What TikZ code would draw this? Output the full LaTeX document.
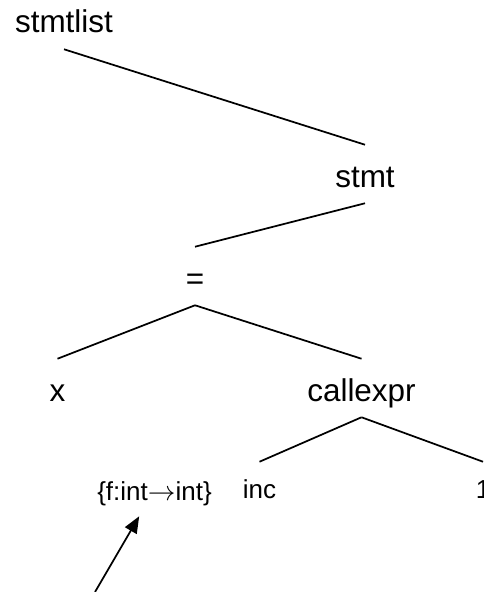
\documentclass[tikz,border=0pt]{standalone}
\usepackage{fontspec}
\setmainfont{Liberation Sans}
\usetikzlibrary{arrows.meta}
\tikzset{>={Triangle[length=12.5pt,width=10pt]},
  lbl/.style={anchor=base,inner sep=0pt,text height=31.5pt,text depth=12pt,font=\fontsize{23.6}{28}\selectfont},
  sublbl/.style={anchor=base,inner sep=0pt,text height=27pt,text depth=12pt,font=\fontsize{19.5}{24}\selectfont},
  branch/.style={line width=1.3pt},pointer/.style={line width=1.3pt,->}}
\begin{document}
\begin{tikzpicture}[x=.75pt,y=-.75pt]
\useasboundingbox (0,0) rectangle (483,592);
\node[lbl] (stmtlist) at (64,33){stmtlist};\node[lbl] (stmt) at (365,187){stmt};
\node[lbl] (eq) at (195,289){=};
\node[lbl] (x) at (57.5,401){x};\node[lbl] (callexpr) at (361.5,401){callexpr};
\node[sublbl] (ftype) at (154.5,500){\{f:int$\rightarrow$int\}};
\node[sublbl] (inc) at (259.5,498){inc};\node[sublbl] (one) at (483,498){1};
\draw[branch] (stmtlist.south)--(stmt.north);\draw[branch] (stmt.south)--(eq.north);
\draw[branch] (eq.south)--(x.north);\draw[branch] (eq.south)--(callexpr.north);
\draw[branch] (callexpr.south)--(inc.north);\draw[branch] (callexpr.south)--(one.north);
\coordinate (tail) at (95,592);\draw[pointer] (tail)--(ftype);
\end{tikzpicture}
\end{document}
